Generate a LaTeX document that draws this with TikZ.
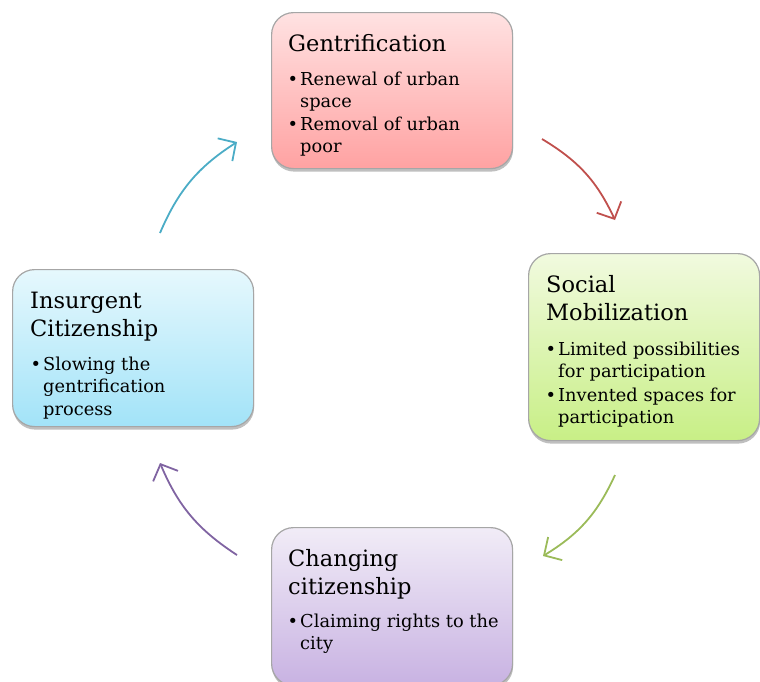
\documentclass[tikz,border=0pt]{standalone}
\usepackage{fontspec}
\setmainfont{DejaVu Serif}
\usetikzlibrary{arrows.meta,shadows}
\definecolor{arrTeal}{HTML}{4BACC6}
\definecolor{arrRed}{HTML}{C0504D}
\definecolor{arrGreen}{HTML}{9BBB59}
\definecolor{arrPurple}{HTML}{8064A2}
\definecolor{gTop}{HTML}{FFE2E2}
\definecolor{gBot}{HTML}{FFA2A2}
\definecolor{sTop}{HTML}{F1FADF}
\definecolor{sBot}{HTML}{C8EF86}
\definecolor{cTop}{HTML}{F1ECF7}
\definecolor{cBot}{HTML}{C8B2E2}
\definecolor{iTop}{HTML}{E6F8FD}
\definecolor{iBot}{HTML}{A2E3F8}
\definecolor{boxLine}{HTML}{A6A6A6}
\tikzset{
  box/.style={draw=boxLine, line width=1.2pt, rounded corners=22pt, anchor=north west,
    inner sep=0pt, minimum width=241pt,
    drop shadow={shadow xshift=0.5pt, shadow yshift=-3pt, opacity=0.25, fill=black}},
  ttl/.style={anchor=base west, inner sep=0pt, font=\fontsize{22.5}{26}\selectfont},
  itm/.style={anchor=base west, inner sep=0pt, font=\fontsize{17.8}{21}\selectfont},
  cyc/.style={line width=1.8pt, -{Straight Barb[length=13pt,width=27pt,line width=1.8pt]}, bend left=17}
}
\newcommand{\bul}{\llap{•\hspace{2pt}}}
\begin{document}
\begin{tikzpicture}[x=1pt,y=1pt]
\useasboundingbox (0,0) rectangle (760,-681);
% boxes
\node[box, top color=gTop, bottom color=gBot, minimum height=156pt] (gent) at (271,-12) {};
\node[box, top color=sTop, bottom color=sBot, minimum width=231pt, minimum height=187pt] (soc) at (528,-253) {};
\node[box, top color=cTop, bottom color=cBot, minimum height=158pt] (chg) at (271,-527) {};
\node[box, top color=iTop, bottom color=iBot, minimum height=157pt] (ins) at (12,-269) {};
% Gentrification
\node[ttl] (g0) at (288,-51) {Gentrification};
\node[itm] (g1) at (300,-85) {\bul Renewal of urban};
\node[itm] (g2) at (300,-107.5) {space};
\node[itm] (g3) at (300,-130) {\bul Removal of urban};
\node[itm] (g4) at (300,-152.5) {poor};
% Social Mobilization
\node[ttl] (s0) at (546,-292) {Social};
\node[ttl] (s1) at (546,-320) {Mobilization};
\node[itm] (s2) at (558,-355) {\bul Limited possibilities};
\node[itm] (s3) at (558,-377.5) {for participation};
\node[itm] (s4) at (558,-401) {\bul Invented spaces for};
\node[itm] (s5) at (558,-423.5) {participation};
% Changing citizenship
\node[ttl] (c0) at (288,-566) {Changing};
\node[ttl] (c1) at (288,-594) {citizenship};
\node[itm] (c2) at (300,-627) {\bul Claiming rights to the};
\node[itm] (c3) at (300,-649.5) {city};
% Insurgent Citizenship
\node[ttl] (i0) at (30,-308) {Insurgent};
\node[ttl] (i1) at (30,-336) {Citizenship};
\node[itm] (i2) at (43,-370) {\bul Slowing the};
\node[itm] (i3) at (43,-392.5) {gentrification};
\node[itm] (i4) at (43,-415) {process};
% arrows
\coordinate (a1s) at (542,-139); \coordinate (a1e) at (615,-220);
\coordinate (a2s) at (615,-475); \coordinate (a2e) at (543,-556);
\coordinate (a3s) at (237,-555); \coordinate (a3e) at (160,-463);
\coordinate (a4s) at (160,-233); \coordinate (a4e) at (237,-142);
\draw[cyc, arrRed] (a1s) to (a1e);
\draw[cyc, arrGreen] (a2s) to (a2e);
\draw[cyc, arrPurple] (a3s) to (a3e);
\draw[cyc, arrTeal] (a4s) to (a4e);
\end{tikzpicture}
\end{document}
